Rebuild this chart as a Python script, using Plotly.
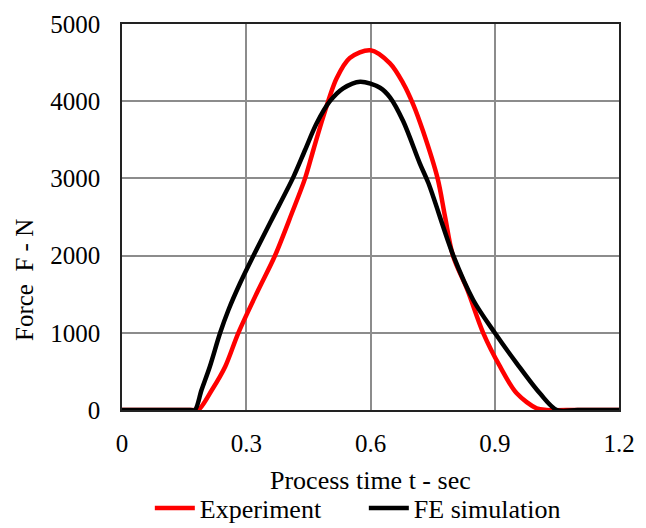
import plotly.graph_objects as go

# Experiment (red)
t_exp = [0, 0.12, 0.17, 0.184, 0.217, 0.249, 0.281, 0.329, 0.369, 0.410, 0.442, 0.462,
         0.486, 0.518, 0.550, 0.600, 0.647, 0.679, 0.703, 0.727, 0.762, 0.780, 0.799,
         0.834, 0.872, 0.913, 0.953, 1.001, 1.025, 1.1, 1.2]
f_exp = [0, 0, 0, 0, 259, 561, 1000, 1554, 1995, 2548, 3000, 3368,
         3800, 4295, 4560, 4660, 4490, 4232, 3960, 3610, 3000, 2504, 2000,
         1554, 1000, 561, 216, 22, 0, 0, 0]

# FE simulation (black)
t_fe = [0, 0.12, 0.165, 0.176, 0.192, 0.212, 0.237, 0.257, 0.285, 0.317, 0.361, 0.414,
        0.442, 0.470, 0.502, 0.534, 0.575, 0.623, 0.647, 0.679, 0.719, 0.740, 0.800,
        0.848, 0.900, 0.953, 1.009, 1.050, 1.1, 1.2]
f_fe = [0, 0, 0, 0, 259, 561, 1000, 1295, 1641, 1995, 2461, 3020,
        3368, 3714, 4000, 4167, 4253, 4175, 4050, 3740, 3195, 2937, 2000,
        1425, 1000, 605, 216, 0, 0, 0]

x_ticks = [0, 0.3, 0.6, 0.9, 1.2]
x_ticktext = ["0", "0.3", "0.6", "0.9", "1.2"]
y_ticks = [0, 1000, 2000, 3000, 4000, 5000]

FONT = "Liberation Serif, Times New Roman, serif"

fig = go.Figure()
fig.add_trace(go.Scatter(x=t_exp, y=f_exp, mode="lines", name="Experiment",
                         line=dict(color="#ff0000", width=4.5, shape="spline", smoothing=0.9)))
fig.add_trace(go.Scatter(x=t_fe, y=f_fe, mode="lines", name="FE simulation",
                         line=dict(color="#000000", width=4.5, shape="spline", smoothing=0.9)))

fig.update_layout(
    width=646, height=528,
    margin=dict(l=122, r=27, t=24, b=118, autoexpand=False),
    paper_bgcolor="white", plot_bgcolor="white",
    font=dict(family=FONT, size=25, color="black"),
    showlegend=True,
    legend=dict(orientation="h", x=0.056, xanchor="left", y=-0.315, yanchor="bottom",
                font=dict(size=26), itemwidth=40, tracegroupgap=0,
                entrywidth=159, entrywidthmode="pixels",
                bgcolor="rgba(0,0,0,0)"),
    annotations=[
        dict(text="Process time t - sec", xref="paper", yref="paper",
             x=0.5, y=-0.183, xanchor="center", yanchor="middle",
             showarrow=False, font=dict(size=26)),
        dict(text="Force  F - N", xref="paper", yref="paper",
             x=-0.195, y=0.337, xanchor="center", yanchor="middle",
             textangle=-90, showarrow=False, font=dict(size=25)),
    ],
)
fig.update_xaxes(range=[0, 1.2], tickvals=x_ticks, ticktext=x_ticktext,
                 showgrid=True, gridcolor="#8c8c8c", gridwidth=1.5,
                 showline=True, mirror=True, linecolor="#222222", linewidth=1.5,
                 zeroline=False, ticks="", ticklabelstandoff=10,
                 tickfont=dict(size=25))
fig.update_yaxes(range=[0, 5000], tickvals=y_ticks,
                 showgrid=True, gridcolor="#8c8c8c", gridwidth=1.5,
                 showline=True, mirror=True, linecolor="#222222", linewidth=1.5,
                 zeroline=False, ticks="outside", ticklen=15,
                 tickcolor="rgba(0,0,0,0)",
                 tickfont=dict(size=25))

fig.write_html("out.html")
